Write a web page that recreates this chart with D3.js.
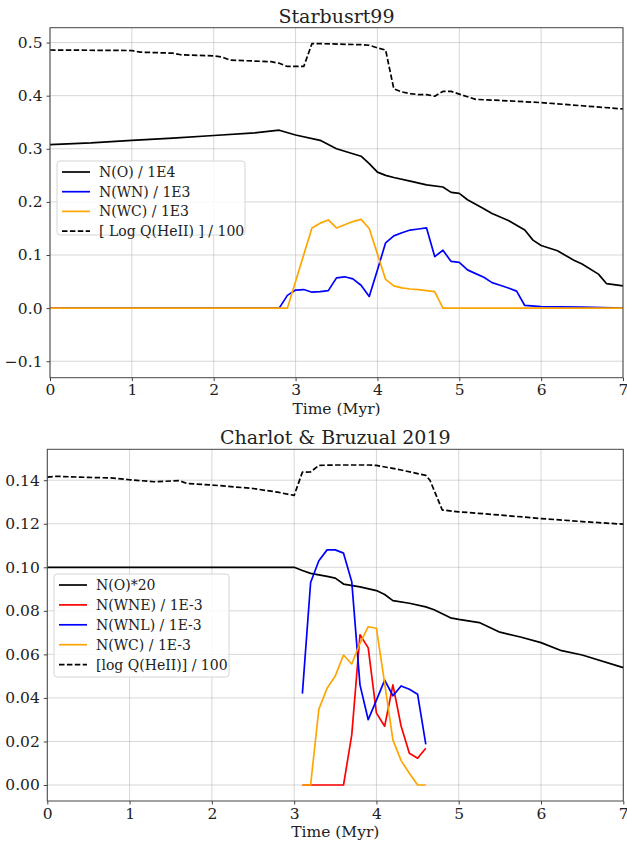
<!DOCTYPE html>
<html>
<head>
<meta charset="utf-8">
<script src="https://cdn.jsdelivr.net/npm/d3@7"></script>
<style>
  body { margin: 0; background: #fff; }
  svg { display: block; font-family: "DejaVu Serif", serif; }
</style>
</head>
<body>
<svg width="627" height="841"></svg>
<script>
// ---- Starburst99 panel data ----
var sbTimeO = [0, 0.5, 1, 1.5, 2, 2.5, 2.8, 3.0, 3.3, 3.5, 3.8, 3.9, 4.0, 4.1, 4.2, 4.4, 4.6, 4.8, 4.9, 5.0, 5.1, 5.3, 5.4, 5.6, 5.8, 5.9, 6.0, 6.2, 6.4, 6.5, 6.7, 6.8, 7.0];
var sbNO = [0.308, 0.311, 0.316, 0.320, 0.325, 0.330, 0.335, 0.326, 0.316, 0.300, 0.286, 0.272, 0.256, 0.250, 0.246, 0.239, 0.232, 0.228, 0.218, 0.216, 0.204, 0.187, 0.178, 0.165, 0.147, 0.128, 0.118, 0.108, 0.090, 0.083, 0.064, 0.046, 0.042];

var sbTimeWN = [0, 2.8, 2.9, 3.0, 3.1, 3.2, 3.3, 3.4, 3.5, 3.6, 3.7, 3.8, 3.9, 4.0, 4.1, 4.2, 4.3, 4.4, 4.5, 4.6, 4.7, 4.8, 4.9, 5.0, 5.1, 5.2, 5.3, 5.4, 5.5, 5.6, 5.7, 5.8, 6.0, 6.5, 7.0];
var sbWN = [0, 0, 0.024, 0.034, 0.035, 0.030, 0.031, 0.033, 0.057, 0.059, 0.055, 0.043, 0.022, 0.072, 0.123, 0.136, 0.142, 0.147, 0.149, 0.151, 0.097, 0.109, 0.088, 0.086, 0.072, 0.065, 0.058, 0.048, 0.043, 0.038, 0.032, 0.005, 0.003, 0.002, 0];

var sbTimeWC = [0, 2.9, 3.2, 3.3, 3.4, 3.5, 3.6, 3.7, 3.8, 3.9, 4.0, 4.1, 4.2, 4.3, 4.4, 4.5, 4.6, 4.7, 4.8, 7.0];
var sbWC = [0, 0, 0.151, 0.160, 0.166, 0.151, 0.157, 0.163, 0.167, 0.150, 0.102, 0.054, 0.042, 0.038, 0.036, 0.035, 0.033, 0.031, 0, 0];

var sbTimeQ = [0, 1.0, 1.1, 1.5, 1.6, 2.0, 2.1, 2.2, 2.7, 2.8, 2.9, 3.1, 3.2, 3.3, 3.8, 3.9, 4.0, 4.1, 4.2, 4.3, 4.4, 4.5, 4.6, 4.7, 4.8, 4.9, 5.0, 5.1, 5.2, 5.5, 6.0, 6.5, 7.0];
var sbQ = [0.486, 0.485, 0.482, 0.480, 0.477, 0.475, 0.473, 0.467, 0.464, 0.461, 0.455, 0.455, 0.498, 0.498, 0.496, 0.495, 0.490, 0.486, 0.413, 0.407, 0.404, 0.402, 0.402, 0.399, 0.408, 0.408, 0.403, 0.398, 0.393, 0.391, 0.387, 0.381, 0.375];

// ---- Charlot & Bruzual panel data ----
var cbTimeO = [0, 3.0, 3.1, 3.2, 3.3, 3.4, 3.5, 3.6, 3.8, 4.0, 4.1, 4.2, 4.4, 4.6, 4.7, 4.8, 4.9, 5.0, 5.25, 5.5, 5.75, 6.0, 6.25, 6.5, 7.0];
var cbNO = [0.1, 0.1, 0.0985, 0.0972, 0.0965, 0.0958, 0.0950, 0.0923, 0.0910, 0.0893, 0.0875, 0.0847, 0.0835, 0.0818, 0.0805, 0.0787, 0.0768, 0.0761, 0.0746, 0.0702, 0.0680, 0.0654, 0.0617, 0.0597, 0.0539];

var cbTimeW = [3.1, 3.2, 3.3, 3.4, 3.5, 3.6, 3.7, 3.8, 3.9, 4.0, 4.1, 4.2, 4.3, 4.4, 4.5, 4.6];
var cbWNE = [0, 0, 0, 0, 0, 0, 0.023, 0.069, 0.063, 0.033, 0.027, 0.046, 0.027, 0.0146, 0.0123, 0.0169];
var cbWNL = [0.042, 0.093, 0.103, 0.108, 0.108, 0.1065, 0.0934, 0.046, 0.030, 0.039, 0.0482, 0.041, 0.0455, 0.044, 0.0417, 0.0187];
var cbWC = [0, 0, 0.0348, 0.0444, 0.0501, 0.0597, 0.0556, 0.0651, 0.0727, 0.072, 0.0467, 0.0207, 0.0112, 0.0054, 0, 0];

var cbTimeQ = [0, 0.1, 0.5, 0.8, 1.0, 1.3, 1.6, 1.7, 2.0, 2.5, 2.8, 3.0, 3.1, 3.2, 3.3, 3.5, 3.9, 4.0, 4.3, 4.6, 4.65, 4.8, 5.0, 5.5, 6.0, 6.5, 7.0];
var cbQ = [0.1414, 0.1418, 0.1413, 0.1410, 0.1402, 0.1393, 0.1398, 0.1385, 0.1378, 0.1362, 0.1345, 0.1330, 0.1437, 0.1438, 0.1468, 0.1470, 0.1470, 0.1468, 0.1447, 0.1422, 0.1400, 0.1263, 0.1255, 0.1240, 0.1224, 0.1210, 0.1198];

var xTicks = [0, 1, 2, 3, 4, 5, 6, 7];
var sbYTicks = [-0.1, 0, 0.1, 0.2, 0.3, 0.4, 0.5];
var cbYTicks = [0, 0.02, 0.04, 0.06, 0.08, 0.10, 0.12, 0.14];

var svg = d3.select("svg");

function zip(ts, vs) { return ts.map(function (t, i) { return [t, vs[i]]; }); }

function drawPanel(cfg) {
  var x = d3.scaleLinear().domain([0, 7]).range([cfg.left, cfg.right]);
  var y = d3.scaleLinear().domain(cfg.yDomain).range([cfg.bottom, cfg.top]);
  var g = svg.append("g");

  // grid
  g.append("g").selectAll("line").data(xTicks).enter().append("line")
    .attr("x1", function (d) { return x(d); }).attr("x2", function (d) { return x(d); })
    .attr("y1", cfg.top).attr("y2", cfg.bottom)
    .attr("stroke", "#b0b0b0").attr("stroke-opacity", 0.5).attr("stroke-width", 1);
  g.append("g").selectAll("line").data(cfg.yTicks).enter().append("line")
    .attr("y1", function (d) { return y(d); }).attr("y2", function (d) { return y(d); })
    .attr("x1", cfg.left).attr("x2", cfg.right)
    .attr("stroke", "#b0b0b0").attr("stroke-opacity", 0.5).attr("stroke-width", 1);

  var line = d3.line()
    .x(function (d) { return x(d[0]); })
    .y(function (d) { return y(d[1]); });

  cfg.series.forEach(function (s) {
    g.append("path")
      .datum(zip(s.t, s.v))
      .attr("d", line)
      .attr("fill", "none")
      .attr("stroke", s.color)
      .attr("stroke-width", 1.7)
      .attr("stroke-dasharray", s.dash ? "5.5,2.4" : null)
      .attr("stroke-linejoin", "round");
  });

  // frame
  g.append("rect")
    .attr("x", cfg.left).attr("y", cfg.top)
    .attr("width", cfg.right - cfg.left).attr("height", cfg.bottom - cfg.top)
    .attr("fill", "none").attr("stroke", "#444").attr("stroke-width", 1);

  // axes
  var xAxis = d3.axisBottom(x).tickValues(xTicks).tickFormat(d3.format("d")).tickSizeOuter(0).tickSize(3.5).tickPadding(3);
  var gx = g.append("g").attr("transform", "translate(0," + cfg.bottom + ")").call(xAxis);
  var yAxis = d3.axisLeft(y).tickValues(cfg.yTicks).tickFormat(cfg.yFormat).tickSizeOuter(0).tickSize(3.5).tickPadding(4);
  var gy = g.append("g").attr("transform", "translate(" + cfg.left + ",0)").call(yAxis);
  [gx, gy].forEach(function (a) {
    a.select(".domain").remove();
    a.selectAll(".tick line").attr("stroke", "#444");
    a.selectAll("text").attr("font-family", "DejaVu Serif").attr("font-size", 15.5).attr("fill", "#222");
  });

  // title + label
  g.append("text").attr("x", (cfg.left + cfg.right) / 2).attr("y", cfg.top - 5)
    .attr("text-anchor", "middle").attr("font-size", 19).attr("fill", "#222").text(cfg.title);
  g.append("text").attr("x", (cfg.left + cfg.right) / 2).attr("y", cfg.bottom + 36)
    .attr("text-anchor", "middle").attr("font-size", 15.5).attr("fill", "#222").text("Time (Myr)");

  // legend
  var lg = g.append("g").attr("transform", "translate(" + cfg.legend.x + "," + cfg.legend.y + ")");
  lg.append("rect").attr("width", cfg.legend.w).attr("height", cfg.legend.h)
    .attr("rx", 3).attr("fill", "#fff").attr("fill-opacity", 0.85)
    .attr("stroke", "#d5d5d5").attr("stroke-width", 1);
  cfg.series.forEach(function (s, i) {
    var yy = 11 + i * cfg.legend.step;
    lg.append("line").attr("x1", 5).attr("x2", 33).attr("y1", yy).attr("y2", yy)
      .attr("stroke", s.color).attr("stroke-width", 1.7)
      .attr("stroke-dasharray", s.dash ? "5.5,2.4" : null);
    lg.append("text").attr("x", 42).attr("y", yy).attr("dy", "0.35em")
      .attr("font-size", 14).attr("fill", "#222").text(s.label);
  });
}

drawPanel({
  title: "Starbusrt99",
  left: 50, right: 623, top: 27.7, bottom: 377.7,
  yDomain: [-0.131, 0.528], yTicks: sbYTicks,
  yFormat: function (d) { return d3.format(".1f")(d).replace("-", "\u2212"); },
  legend: { x: 57, y: 161, w: 188, h: 74, step: 19.7 },
  series: [
    { t: sbTimeO, v: sbNO, color: "#000", label: "N(O) / 1E4" },
    { t: sbTimeWN, v: sbWN, color: "#0000ff", label: "N(WN) / 1E3" },
    { t: sbTimeWC, v: sbWC, color: "#ffa500", label: "N(WC) / 1E3" },
    { t: sbTimeQ, v: sbQ, color: "#000", dash: true, label: "[ Log Q(HeII) ] / 100" }
  ]
});

drawPanel({
  title: "Charlot & Bruzual 2019",
  left: 47.3, right: 623.3, top: 449.3, bottom: 801,
  yDomain: [-0.00735, 0.1542], yTicks: cbYTicks,
  yFormat: d3.format(".2f"),
  legend: { x: 54, y: 574, w: 175, h: 103, step: 19.9 },
  series: [
    { t: cbTimeO, v: cbNO, color: "#000", label: "N(O)*20" },
    { t: cbTimeW, v: cbWNE, color: "#ff0000", label: "N(WNE) / 1E-3" },
    { t: cbTimeW, v: cbWNL, color: "#0000ff", label: "N(WNL) / 1E-3" },
    { t: cbTimeW, v: cbWC, color: "#ffa500", label: "N(WC) / 1E-3" },
    { t: cbTimeQ, v: cbQ, color: "#000", dash: true, label: "[log Q(HeII)] / 100" }
  ]
});
</script>
</body>
</html>
